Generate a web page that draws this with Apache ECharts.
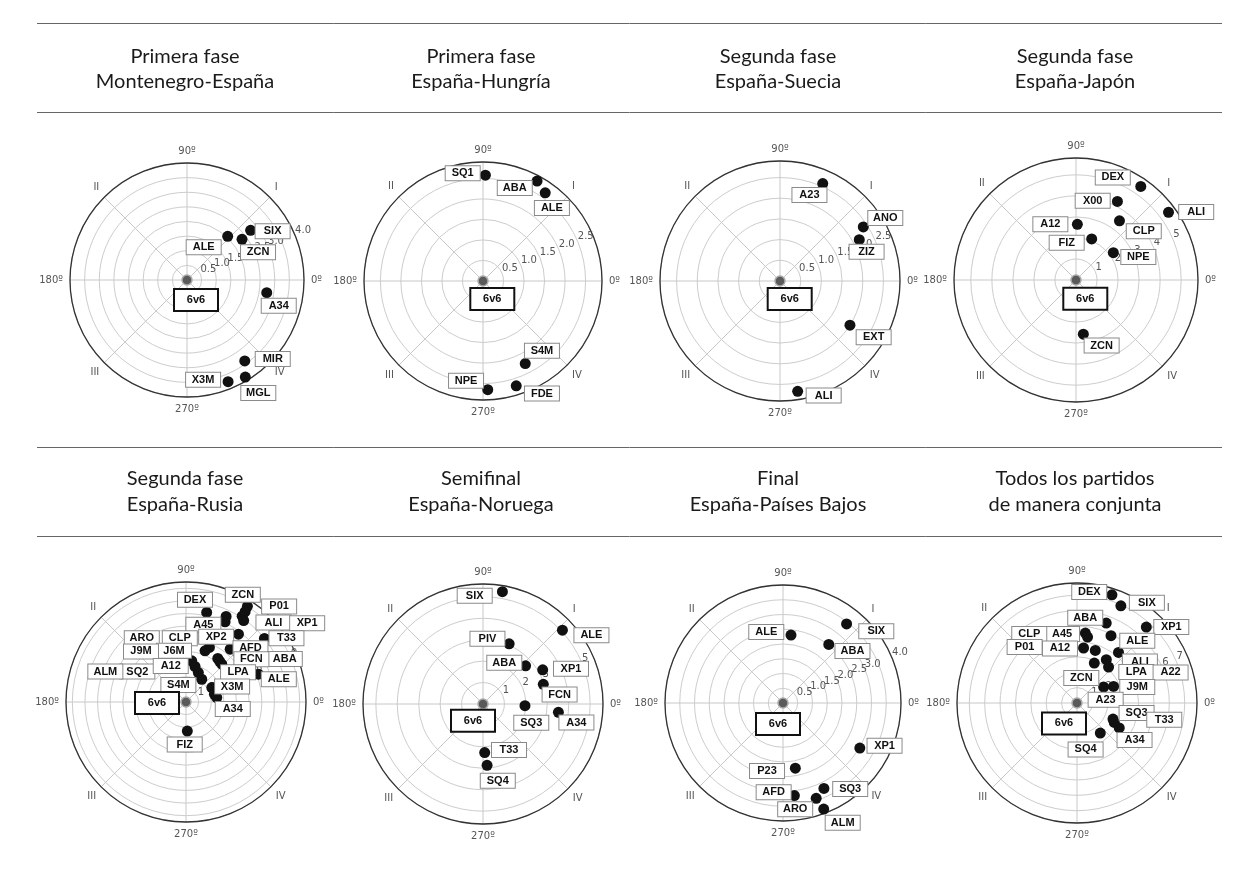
<!DOCTYPE html>
<html><head><meta charset="utf-8">
<script src="https://cdn.jsdelivr.net/npm/echarts@6/dist/echarts.min.js"></script>
<style>html,body{margin:0;padding:0;background:#fff}#c{width:1260px;height:875px}</style>
</head><body><div id="c"></div>
<script>
// ---------- text ----------
const titleLine1 = ['Primera fase','Primera fase','Segunda fase','Segunda fase','Segunda fase','Semifinal','Final','Todos los partidos'];
const titleLine2 = ['Montenegro-España','España-Hungría','España-Suecia','España-Japón','España-Rusia','España-Noruega','España-Países Bajos','de manera conjunta'];
const angleTickLabels = ['0º','I','90º','II','180º','III','270º','IV'];
const refLabel = '6v6';

// ---------- radial scales ----------
const radiusMax  = [4, 2.9, 2.9, 5.8, 9.5, 5.6, 4, 7.8];
const radiusStep = [0.5, 0.5, 0.5, 1, 1, 1, 0.5, 1];

// ---------- data (angle in degrees, radius in axis units) ----------
const p1Names  = ['SIX','ALE','ZCN','A34','MIR','MGL','X3M'];
const p1Angles = [38, 47, 36.5, 351, 305.5, 301, 292];
const p1Radii  = [2.76, 2.04, 2.34, 2.76, 3.4, 3.87, 3.75];

const p2Names  = ['SQ1','ABA','ALE','S4M','FDE','NPE'];
const p2Angles = [88.7, 61.6, 54.8, 297.1, 287.6, 272.5];
const p2Radii  = [2.58, 2.77, 2.63, 2.26, 2.68, 2.65];

const p3Names  = ['A23','ANO','ZIZ','EXT','ALI'];
const p3Angles = [66.3, 33, 27.5, 327.7, 279.1];
const p3Radii  = [2.57, 2.40, 2.16, 2.0, 2.70];

const p4Names  = ['DEX','X00','ALI','A12','CLP','FIZ','NPE','ZCN'];
const p4Angles = [55.3, 62.2, 36.2, 88.6, 53.7, 69.1, 36.2, 277.7];
const p4Radii  = [5.41, 4.22, 5.45, 2.65, 3.49, 2.09, 2.20, 2.6];

const p5Names  = ['ZCN','DEX','P01','ALI','XP1','A45','CLP','XP2','T33','AFD','ARO','J6M','ABA','FCN','LPA','J9M','SQ2','A12','ALM','S4M','X3M','A34','ALE','FIZ'];
const p5Angles = [57.3, 77, 56.8, 56.8, 54.7, 64.9, 64, 52.3, 39, 50.1, 66.8, 69.6, 53.9, 50.5, 46.6, 82.1, 75.7, 67.3, 55.3, 29.3, 15.2, 8.2, 21, 272.6];
const p5Radii  = [9.0, 7.28, 8.55, 8.12, 7.9, 7.48, 7.06, 6.79, 7.99, 5.45, 4.7, 4.32, 4.27, 4.18, 4.12, 3.29, 2.9, 2.53, 2.19, 2.34, 2.33, 2.46, 6.14, 2.3];

const p6Names  = ['SIX','ALE','PIV','ABA','XP1','FCN','SQ3','A34','T33','SQ4'];
const p6Angles = [80.2, 42.9, 66.5, 41.9, 29.8, 18.1, 357.7, 353.7, 272, 273.8];
const p6Radii  = [5.32, 5.06, 3.06, 2.67, 3.21, 2.96, 1.96, 3.54, 2.27, 2.87];

const p7Names  = ['SIX','ALE','ABA','XP1','P23','SQ3','AFD','ARO','ALM'];
const p7Angles = [51.2, 83.3, 52, 329.6, 280.7, 295.6, 277, 289.2, 291];
const p7Radii  = [3.44, 2.32, 2.52, 3.02, 2.25, 3.21, 3.16, 3.42, 3.85];

const p8Names  = ['DEX','SIX','XP1','ABA','ALE','A45','CLP','A12','P01','ALI','LPA','A22','ZCN','J9M','A23','SQ3','T33','A34','SQ4'];
const p8Angles = [72.1, 65.7, 47.6, 69.9, 63.2, 83.2, 80.9, 83.2, 70.8, 50.6, 55.9, 48.7, 66.6, 24.4, 31, 336, 332.5, 329.4, 307.8];
const p8Radii  = [7.39, 6.93, 6.68, 5.53, 4.9, 4.58, 4.34, 3.6, 3.62, 4.25, 3.4, 3.11, 2.83, 2.61, 2.02, 2.56, 2.73, 3.19, 2.47];

const plotNames  = [p1Names, p2Names, p3Names, p4Names, p5Names, p6Names, p7Names, p8Names];
const plotAngles = [p1Angles, p2Angles, p3Angles, p4Angles, p5Angles, p6Angles, p7Angles, p8Angles];
const plotRadii  = [p1Radii, p2Radii, p3Radii, p4Radii, p5Radii, p6Radii, p7Radii, p8Radii];

// ---------- layout (positions / styling only) ----------
const polarCenters = [[187,280],[483,281],[780,281],[1076,280],[186,702],[483,704],[783,703],[1077,703]];
const polarRadius  = [117,119,120,122,120,120,118,120];
const titleX = [185, 481, 778, 1075];
const titleY = [[56.5, 81.5], [479, 505]];
const ruleY  = [23.5, 112.5, 447.5, 536.5];
// label box offsets [dx, dy] in px, relative to each point
const labelOffsets = [
  [[22,1],[-24,11],[16,13],[12,13],[28,-2],[13,16],[-25,-2]],
  [[-22.7,-2],[-22.3,7],[6.7,15.3],[16.7,-12.7],[25.7,7.7],[-21.7,-9]],
  [[-13.3,11.3],[22,-9],[7.3,12],[23.7,12],[26,4.3]],
  [[-28,-9],[-24.7,-0.7],[27.7,-0.3],[-27,0],[24.3,10.3],[-25,3.7],[25,4.3],[18.3,11.3]],
  [[-4.6,-11.6],[-11.7,-12.6],[34,-5.2],[31.3,6.3],[63.5,2.8],[-22.7,8.4],[-45.3,16.3],[-22.3,2.7],[22,-0.3],[20.3,-1],[-67.6,-9.3],[-31,0],[67,0.7],[31.8,-2],[16.3,8],[-50.7,-9.4],[-57.7,5],[-27.6,-6.6],[-96.4,-7.7],[-33.4,-2.6],[17.7,-7.7],[16,11.4],[20.4,5],[-2.6,13.6]],
  [[-27.7,4],[29,5],[-21.7,-5],[-21.3,-3],[28.3,-1],[16.3,10.3],[6.3,17],[18,10.3],[24.3,-2.7],[10.7,15.3]],
  [[29.7,7.3],[-24.7,-3],[23.7,6.7],[24.7,-2.3],[-28.3,2.7],[26.3,0.7],[-20.7,-3.3],[-21,11],[19,13.7]],
  [[-22.7,-2.7],[26,-3],[25,0],[-21,-5.3],[26.3,5],[-23.3,1],[-58.3,-3],[-23.6,0.4],[-70.7,-3.4],[21.4,9],[30,12.3],[62,5.4],[-13,15],[23.7,0.6],[2,12.7],[23.6,-6],[50,-2.7],[15.3,12],[-14.7,16.4]]
];
const refOffsets = [[9,20],[9.3,18],[9.7,18],[9.3,18.7],[-29,1],[-10,16.7],[-5,21],[-13,20.4]];

const chart = echarts.init(document.getElementById('c'), null, {renderer:'canvas'});

const polar = [], angleAxis = [], radiusAxis = [], series = [], graphic = [];

const boxLabel = {
  show: true, position: 'inside', color: '#111', fontSize: 11, fontWeight: 'bold',
  fontFamily: 'Liberation Sans, Arial, sans-serif', backgroundColor: '#fff',
  borderColor: '#8a8a8a', borderWidth: 1, padding: [1, 6], width: 22, align: 'center',
  lineHeight: 12
};

for (let k = 0; k < 8; k++) {
  const c = polarCenters[k], r = polarRadius[k];
  const max = radiusMax[k], step = radiusStep[k];
  const maxOnTick = Math.abs(max / step - Math.round(max / step)) < 1e-6;
  polar.push({center: c, radius: r});
  polar.push({center: c, radius: r});
  const pi = 2 * k, li = 2 * k + 1;
  angleAxis.push({
    polarIndex: pi, type: 'value', min: 0, max: 360, interval: 45,
    startAngle: 0, clockwise: false,
    axisLine: {show: true, lineStyle: {color: '#333', width: 1.3}},
    axisTick: {show: false},
    axisLabel: {
      show: true, margin: 7, color: '#555', fontSize: 10,
      fontFamily: 'DejaVu Sans, sans-serif',
      formatter: v => angleTickLabels[Math.round(v / 45)] !== undefined && v < 360 ? angleTickLabels[Math.round(v / 45)] : ''
    },
    splitLine: {show: true, lineStyle: {color: '#c8c8c8', width: 1}}
  });
  radiusAxis.push({
    polarIndex: pi, type: 'value', min: 0, max: max, interval: step,
    axisLine: {show: false}, axisTick: {show: false}, axisLabel: {show: false},
    splitLine: {show: true, lineStyle: {color: '#cdcdcd', width: 1}}
  });
  angleAxis.push({
    polarIndex: li, type: 'value', min: 0, max: 360, startAngle: 22.5, clockwise: false,
    show: false
  });
  radiusAxis.push({
    polarIndex: li, type: 'value', min: 0, max: max, interval: step,
    axisLine: {show: false}, axisTick: {show: false}, splitLine: {show: false},
    axisLabel: {
      show: true, margin: 0, color: '#555', fontSize: 10,
      fontFamily: 'DejaVu Sans, sans-serif', align: 'left', verticalAlign: 'bottom',
      showMinLabel: false, showMaxLabel: maxOnTick,
      formatter: v => step < 1 ? v.toFixed(1) : String(Math.round(v))
    }
  });

  const names = plotNames[k], angs = plotAngles[k], rads = plotRadii[k];
  const data = names.map((n, i) => ({
    name: n, value: [rads[i], angs[i]],
    label: {offset: labelOffsets[k][i]}
  }));
  series.push({
    type: 'scatter', coordinateSystem: 'polar', polarIndex: pi,
    symbol: 'circle', symbolSize: 11,
    itemStyle: {color: '#111', opacity: 1},
    label: Object.assign({}, boxLabel, {formatter: p => p.name}),
    data: data, z: 3
  });
  series.push({
    type: 'scatter', coordinateSystem: 'polar', polarIndex: pi,
    symbol: 'circle', symbolSize: 10,
    itemStyle: {color: '#5a5a5a', borderColor: '#aaa', borderWidth: 1.5, opacity: 1},
    label: Object.assign({}, boxLabel, {
      formatter: refLabel, borderColor: '#111', borderWidth: 2,
      padding: [4, 10], offset: refOffsets[k]
    }),
    data: [[0, 0]], z: 3
  });

  const col = k % 4, row = Math.floor(k / 4);
  graphic.push({type: 'text', x: titleX[col], y: titleY[row][0],
    style: {text: titleLine1[k], align: 'center', verticalAlign: 'middle',
      font: '20px Lato, "Open Sans", sans-serif', fill: '#1a1a1a'}});
  graphic.push({type: 'text', x: titleX[col], y: titleY[row][1],
    style: {text: titleLine2[k], align: 'center', verticalAlign: 'middle',
      font: '20px Lato, "Open Sans", sans-serif', fill: '#1a1a1a'}});
}
ruleY.forEach(y => graphic.push({type: 'line', shape: {x1: 37, y1: y, x2: 1222, y2: y},
  style: {stroke: '#666', lineWidth: 1}}));

chart.setOption({
  animation: false,
  backgroundColor: '#fff',
  polar, angleAxis, radiusAxis, series, graphic
});
</script></body></html>
